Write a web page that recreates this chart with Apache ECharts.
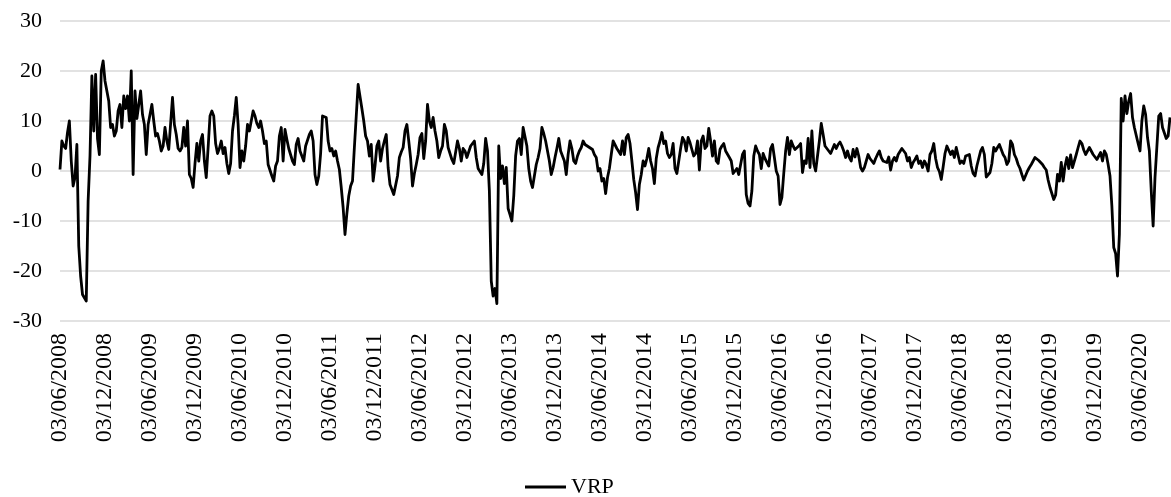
<!DOCTYPE html>
<html>
<head>
<meta charset="utf-8">
<script src="https://cdn.jsdelivr.net/npm/echarts@6/dist/echarts.min.js"></script>
<style>
  html, body { margin: 0; padding: 0; background: #ffffff; }
  #chart { width: 1171px; height: 497px; }
</style>
</head>
<body>
<div id="chart"></div>
<script>
// Volatility risk premium (VRP), four samples per month starting 03/06/2008.
// Each array holds the consecutive quarter-month values of one calendar year.
const vrp2008 = [0.3, 6, 5, 4.5, 7.7, 10, 2, -3, -1.3, 5.3, -15, -21, -24.7, -25, -26, -6, 3, 19, 8, 19.3, 6.5, 3.3, 20, 22, 18, 18, 14, 8.7];
const vrp2009 = [9.3, 7, 8, 12, 13.3, 8.7, 15, 12.5, 15, 10, 20, -0.7, 16, 10.5, 10.7, 16, 11.3, 9.3, 3.3, 9.3,
  11.3, 13.3, 10, 7, 7.5, 6, 4, 5, 8.7, 6, 4.3, 4, 14.7, 9.3, 7.3, 4.5, 4, 4.7, 8.7, 5, 10, -0.7, -1.5, -3.3, 1.5, 5.5, 2, 6];
const vrp2010 = [7.3, 2, -1.3, 4.7, 11, 12, 11, 5.5, 3.5, 4.5, 6, 3.5, 4.7, 1.5, -0.5, 1.5, 8, 11, 14.7, 9.3,
  0.7, 4, 2, 5, 9.3, 8, 10, 12, 11, 9.5, 8.7, 10, 8, 5.5, 6, 1.3, 0.9, -1, -2, 1, 2, 7, 8.7, 2, 8.3, 6.3, 4.5, 4.5];
const vrp2011 = [2, 1.3, 5.3, 6.5, 4, 4, 2, 5, 4.7, 7.3, 8, 6, -0.7, -2.7, -1, 3.5, 11, 10.7, 10.7, 6,
  4, 4.5, 3, 4, 2, 0.3, -3.3, -7.3, -12.7, -8.5, -5, -3, -2, 4.7, 4.7, 17.3, 17.7, 12.5, 10, 7, 6, 3, 5.3, -2, 1, 5, 6, 2];
const vrp2012 = [4.5, 6, 7.3, 0.7, -2.7, -2.3, -4.7, -4.5, -1, 2.7, 3.8, 4.7, 8, 9.3, 6, 2.5, -3, -0.5, 1.3, 3.3,
  6.7, 7.5, 2.5, 6, 13.3, 10, 8.7, 10.7, 8, 6, 2.7, 4, 5, 9.3, 8, 4.7, 5, 2.3, 1.5, 1.7, 6, 4.5, 2, 4.5, 4, 2.7, 3, 5];
const vrp2013 = [4.7, 6, 2.7, 0.5, -0.1, -0.7, 1.5, 6.5, 4, -4, -22, -25, -23.5, -26.5, 5, -1.5, 1, -2.5, 0.7, -7.5,
  -8.7, -10, -5, 3, 6, 6.5, 3.3, 8.7, 9, 5, 0.5, -2, -3.3, -1, 1.3, 2.7, 4.5, 8.7, 7.5, 6, 4, 2, -0.7, 0.7, 2.7, 4.5, 6.5, 4];
const vrp2014 = [4, 2, -0.7, 3.3, 6, 4.5, 2, 1.5, 3, 4, 4.7, 6, 5.3, 5.6, 4.8, 5, 4.3, 3.3, 2.7, 0,
  0.5, -2, -1.5, -4.5, -1.3, 0.5, 3.3, 6, 6.2, 4.5, 4.3, 3.3, 6, 3.3, 6.7, 7.3, 5.5, 2, -1.7, -4.3, -7.7, -2.7, -0.7, 2, 1, 2.5, 4.5, 2];
const vrp2015 = [0.5, -2.5, 2.5, 4.7, 6, 7.7, 5.5, 6, 3.5, 2.7, 3.3, 5.5, 0.5, -0.5, -0.5, 4.5, 6.7, 6, 4, 6.7,
  5.7, 4.3, 3, 3.5, 6, 0.2, 6, 7, 4.5, 5, 8.5, 6, 3, 6, 2, 1.5, 4.3, 5, 5.5, 4, 4, 2.7, 2, -0.5, -0.7, 0.5, -0.7, -0.3];
const vrp2016 = [3.3, 4, -4.7, -6.5, -7, -4, 3, 5, 4, 3.3, 0.5, 3.5, 2.5, 2.7, 1, 4.5, 5.3, 2.7, 0, -1,
  -6.7, -5.3, -0.5, 4, 6.7, 3.3, 6, 5, 4.3, 4, 5, 5.5, -0.3, 2, 1.5, 6.5, 0.7, 8, 1.5, 0, 3, 6, 9.5, 7.3, 5, 5, 4, 3.5];
const vrp2017 = [3.3, 5.3, 4.5, 5.3, 5.8, 5, 4, 2.7, 4, 2.7, 2, 4.3, 2.8, 4.5, 3, 0.7, 0, 0.7, 2, 3.3,
  2.5, 2.3, 1.5, 2.5, 3.3, 4, 2.7, 2, 2, 1.7, 2.8, 0.2, 2, 2.7, 2, 3.3, 3.7, 4.5, 4, 3.5, 2, 2.7, 0.7, 1.7, 2.3, 3, 1.5, 2];
const vrp2018 = [0.7, 2, 1.3, 0, 3.3, 4, 5.5, 2.5, 0.7, -0.1, -1.7, 0.8, 3.5, 5, 4.8, 3.3, 4, 2.7, 4.7, 5,
  1.5, 2, 1.5, 3, 2.7, 3.3, 1, -0.5, -1, 1, 2.5, 4, 4.7, 3.3, -1.2, -0.9, -0.3, 1.5, 4.7, 4, 4.7, 5.3, 5.5, 3.3, 2.7, 1.3, 2, 6];
const vrp2019 = [5.3, 3.3, 2.5, 1.3, 0.5, -0.7, -1.8, -1.5, 0, 0.7, 1.3, 2, 2.7, 2.3, 2.1, 2, 1.3, 0.7, 0.2, -1.8,
  -3.3, -4.5, -5.7, -4.8, -0.7, -2, 1.7, -2, 1, 2.7, 0.5, 3.2, 0.7, 2, 3.3, 4.7, 6, 5.5, 4.2, 3.3, 3.3, 4.7, 4, 3.3, 3.3, 2.3, 2, 3.7];
const vrp2020 = [2, 4, 3.3, 1.3, -1, -7, -15.3, -16.5, -21, -12.7, 14.5, 10, 15, 11.5, 14, 15.5, 10.7, 8.7, 9, 5.5,
  4, 10, 13, 11.3, 6.7, 4, -4, -11, -1.3, -1, 11, 11.5, 8.7, 9, 6.5, 7, 10.7];

// Axis labels, one every six months.
const tickLabels = [
  '03/06/2008', '03/12/2008', '03/06/2009', '03/12/2009', '03/06/2010',
  '03/12/2010', '03/06/2011', '03/12/2011', '03/06/2012', '03/12/2012',
  '03/06/2013', '03/12/2013', '03/06/2014', '03/12/2014', '03/06/2015',
  '03/12/2015', '03/06/2016', '03/12/2016', '03/06/2017', '03/12/2017',
  '03/06/2018', '03/12/2018', '03/06/2019', '03/12/2019', '03/06/2020'
];
const yTicks = [-30, -20, -10, 0, 10, 20, 30];

const seriesName = 'VRP';
const MONTHS_PER_LABEL = 6;
const STEP = 0.25; // months between samples

const values = [].concat(vrp2008, vrp2009, vrp2010, vrp2011, vrp2012, vrp2013,
  vrp2014, vrp2015, vrp2016, vrp2017, vrp2018, vrp2019, vrp2020);
const points = values.map((v, i) => [i * STEP, v]);
const lastMonth = (values.length - 1) * STEP;

const FONT = '"Liberation Serif", "DejaVu Serif", serif';
const chart = echarts.init(document.getElementById('chart'), null, { renderer: 'canvas' });

chart.setOption({
  animation: false,
  backgroundColor: '#ffffff',
  grid: { left: 60, right: 1, top: 21, bottom: 176, containLabel: false },
  xAxis: {
    type: 'value',
    min: 0,
    max: lastMonth,
    interval: MONTHS_PER_LABEL,
    splitLine: { show: false },
    axisTick: { show: false },
    axisLine: { show: false },
    axisLabel: {
      rotate: 90,
      margin: 12,
      fontFamily: FONT,
      fontSize: 24,
      color: '#000000',
      showMaxLabel: false,
      formatter: function (v) {
        const k = v / MONTHS_PER_LABEL;
        return Number.isInteger(k) && tickLabels[k] ? tickLabels[k] : '';
      }
    }
  },
  yAxis: {
    type: 'value',
    min: yTicks[0],
    max: yTicks[yTicks.length - 1],
    interval: 10,
    axisLine: { show: false },
    axisTick: { show: false },
    splitLine: { lineStyle: { color: '#d9d9d9', width: 1.5 } },
    axisLabel: {
      margin: 18,
      fontFamily: FONT,
      fontSize: 22,
      color: '#000000'
    }
  },
  legend: {
    left: 520,
    top: 471,
    itemWidth: 41,
    itemHeight: 3,
    itemGap: 0,
    data: [{ name: seriesName, icon: 'rect' }],
    textStyle: { fontFamily: FONT, fontSize: 22, color: '#000000' }
  },
  series: [{
    name: seriesName,
    type: 'line',
    data: points,
    showSymbol: false,
    symbol: 'none',
    lineStyle: { color: '#000000', width: 2.8, join: 'round' },
    itemStyle: { color: '#000000' }
  }]
});
</script>
</body>
</html>
